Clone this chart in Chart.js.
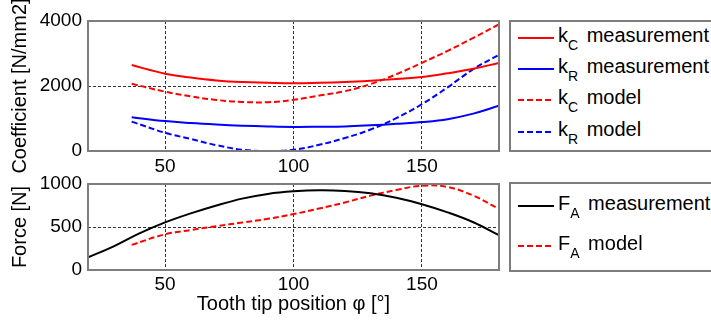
<!DOCTYPE html>
<html>
<head>
<meta charset="utf-8">
<script src="https://cdn.jsdelivr.net/npm/chart.js@4.4.1/dist/chart.umd.min.js"></script>
<style>
    body { margin: 0; width: 711px; height: 324px; overflow: hidden; background: #fff; position: relative;
        font-family: "Liberation Sans", Arial, sans-serif; color: #000; }
    .plot { position: absolute; left: 0; width: 505px; }
    #topWrap { top: 0; height: 185px; }
    #botWrap { top: 165px; height: 159px; }
    .legend { position: absolute; box-sizing: border-box; border: 2px solid #7d7d7d; background: #fff; }
    .item { position: absolute; left: 518px; height: 26px; font-size: 20px; line-height: 20px; white-space: nowrap; }
    .item svg { position: absolute; left: 0; top: 11px; }
    .item .txt { position: absolute; left: 40px; top: 0; }
    .item .s { font-size: 14px; position: relative; top: 8px; margin-right: 3px; }
</style>
</head>
<body>
<div class="plot" id="topWrap"><canvas id="coefChart"></canvas></div>
<div class="plot" id="botWrap"><canvas id="forceChart"></canvas></div>
<div class="legend" style="left:509px; top:20px; width:210px; height:132px;"></div>
<div class="legend" style="left:509px; top:182px; width:210px; height:90px;"></div>
<div id="legendItems"></div>
<script>
// tooth tip position samples (deg) and read-off values
const phiK = [37, 50, 60, 70, 80, 90, 100, 110, 120, 130, 140, 150, 160, 170, 180];
const kcMeasurement = [2645, 2380, 2260, 2170, 2120, 2100, 2085, 2100, 2125, 2165, 2215, 2275, 2390, 2530, 2710];
const krMeasurement = [1040, 920, 860, 815, 780, 755, 740, 745, 755, 790, 835, 890, 980, 1150, 1390];
const kcModel = [2070, 1825, 1680, 1570, 1510, 1500, 1575, 1705, 1840, 2060, 2360, 2714, 3080, 3480, 3900];
const krModel = [905, 560, 370, 180, 40, 0, 40, 190, 400, 660, 1010, 1440, 1960, 2520, 2960];

const phiForce = [20, 30, 40, 50, 60, 70, 80, 90, 100, 110, 120, 130, 140, 150, 160, 170, 180];
const faMeasurement = [146, 275, 425, 553, 658, 750, 830, 885, 915, 928, 920, 892, 840, 765, 670, 555, 405];
const phiForceModel = [37, 50, 60, 70, 80, 90, 100, 110, 120, 130, 140, 150, 160, 170, 180];
const faModel = [292, 415, 465, 510, 552, 595, 650, 715, 785, 865, 930, 980, 965, 865, 710];

const xTicks = [50, 100, 150];
const kTicks = [0, 2000, 4000];
const fTicks = [0, 500, 1000];

const RED = "#ff0000", BLUE = "#0000ff", BLACK = "#000000";
const DASH = [6, 3];

Chart.defaults.font.family = '"Liberation Sans", Arial, sans-serif';
Chart.defaults.color = "#000";

const pts = (xs, ys) => xs.map((x, i) => ({ x: x, y: ys[i] }));

const line = (label, xs, ys, color, dashed) => ({
    label: label,
    data: pts(xs, ys),
    borderColor: color,
    borderWidth: 2,
    borderDash: dashed ? DASH : [],
    pointRadius: 0,
    fill: false,
    tension: 0.4,
});

// box round the plot area, like the matlab axes
const frame = {
    id: "frame",
    afterDraw(chart) {
        const a = chart.chartArea, c = chart.ctx;
        c.save();
        c.strokeStyle = "#7d7d7d";
        c.lineWidth = 2;
        c.setLineDash([]);
        c.strokeRect(a.left, a.top, a.right - a.left, a.bottom - a.top);
        c.restore();
    },
};

const setTicks = (values) => (scale) => {
    scale.ticks = values.map((v) => ({ value: v }));
};

function axes(yMin, yMax, yTicks, yTitle, xHeight, xTitle, xPad) {
    const grid = { color: "#333", lineWidth: 1, drawTicks: false };
    const border = { display: false, dash: [3, 2] };
    return {
        x: {
            type: "linear",
            min: 20,
            max: 180,
            afterBuildTicks: setTicks(xTicks),
            afterFit: (s) => { s.height = xHeight; },
            grid: grid,
            border: border,
            ticks: { font: { size: 19 }, padding: xPad, maxRotation: 0, callback: (v) => String(v) },
            title: { display: !!xTitle, text: xTitle, font: { size: 20 }, padding: { top: 0, bottom: 8 } },
        },
        y: {
            min: yMin,
            max: yMax,
            afterBuildTicks: setTicks(yTicks),
            afterFit: (s) => { s.width = 88; },
            grid: grid,
            border: border,
            ticks: { font: { size: 19 }, padding: 6, callback: (v) => String(v) },
            title: { display: true, text: yTitle, font: { size: 20 }, padding: { top: 8, bottom: 0 } },
        },
    };
}

const common = (padTop, scales) => ({
    responsive: true,
    maintainAspectRatio: false,
    animation: false,
    layout: { padding: { top: padTop, right: 6, bottom: 0, left: 0 } },
    plugins: { legend: { display: false }, tooltip: { enabled: false } },
    scales: scales,
});

new Chart(document.getElementById("coefChart"), {
    type: "line",
    data: {
        datasets: [
            line("kC measurement", phiK, kcMeasurement, RED, false),
            line("kR measurement", phiK, krMeasurement, BLUE, false),
            line("kC model", phiK, kcModel, RED, true),
            line("kR model", phiK, krModel, BLUE, true),
        ],
    },
    options: common(21, axes(0, 4000, kTicks, "Coefficient [N/mm2]", 34, "", 4)),
    plugins: [frame],
});

new Chart(document.getElementById("forceChart"), {
    type: "line",
    data: {
        datasets: [
            line("FA measurement", phiForce, faMeasurement, BLACK, false),
            line("FA model", phiForceModel, faModel, RED, true),
        ],
    },
    options: common(19, axes(0, 1000, fTicks, "Force [N]", 54, "Tooth tip position \u03c6 [\u00b0]", 3)),
    plugins: [frame],
});

// legend entries with subscripts
const legendRows = [
    { y: 38, main: "k", sub: "C", rest: "measurement", color: RED, dashed: false },
    { y: 69, main: "k", sub: "R", rest: "measurement", color: BLUE, dashed: false },
    { y: 100, main: "k", sub: "C", rest: "model", color: RED, dashed: true },
    { y: 132, main: "k", sub: "R", rest: "model", color: BLUE, dashed: true },
    { y: 206, main: "F", sub: "A", rest: "measurement", color: BLACK, dashed: false },
    { y: 246, main: "F", sub: "A", rest: "model", color: RED, dashed: true },
];
const holder = document.getElementById("legendItems");
legendRows.forEach((r) => {
    const d = document.createElement("div");
    d.className = "item";
    d.style.top = (r.y - 13) + "px";
    const dash = r.dashed ? ' stroke-dasharray="6 3"' : "";
    d.innerHTML =
        '<svg width="36" height="4"><line x1="0" y1="2" x2="36" y2="2" stroke="' + r.color +
        '" stroke-width="2"' + dash + '/></svg>' +
        '<span class="txt">' + r.main + '<span class="s">' + r.sub + '</span> ' + r.rest + '</span>';
    holder.appendChild(d);
});
</script>
</body>
</html>
